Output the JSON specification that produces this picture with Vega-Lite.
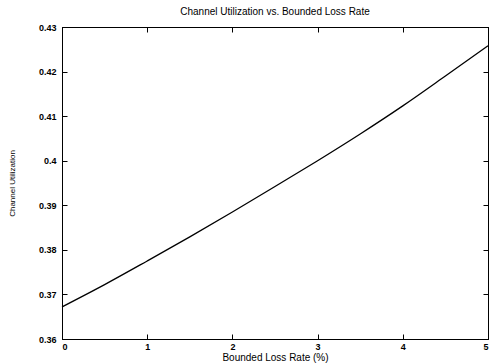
{
  "$schema": "https://vega.github.io/schema/vega-lite/v6.json",
  "width": 426,
  "height": 312,
  "autosize": {"type": "none"},
  "padding": {"left": 62, "top": 27, "right": 2, "bottom": 24},
  "background": "white",
  "title": {
    "text": "Channel Utilization vs. Bounded Loss Rate",
    "font": "Liberation Sans",
    "fontSize": 10,
    "fontWeight": "normal",
    "color": "black",
    "offset": 6,
    "anchor": "middle"
  },
  "config": {
    "view": {"stroke": "black", "strokeWidth": 1},
    "axis": {
      "grid": false,
      "domainColor": "black",
      "tickColor": "black",
      "tickSize": -5,
      "labelFont": "Liberation Sans",
      "labelFontSize": 9,
      "labelFontWeight": "bold",
      "labelColor": "black",
      "titleFont": "Liberation Sans",
      "titleFontWeight": "normal",
      "titleColor": "black"
    }
  },
  "data": {
    "values": [
      {"rate": 0, "util": 0.3672},
      {"rate": 0.5, "util": 0.3722},
      {"rate": 1, "util": 0.3775},
      {"rate": 1.5, "util": 0.3829},
      {"rate": 2, "util": 0.3885},
      {"rate": 2.5, "util": 0.3942},
      {"rate": 3, "util": 0.4000},
      {"rate": 3.5, "util": 0.4060},
      {"rate": 4, "util": 0.4123},
      {"rate": 4.5, "util": 0.4190},
      {"rate": 5, "util": 0.4258}
    ]
  },
  "layer": [
    {
      "mark": {"type": "line", "color": "black", "strokeWidth": 1.3, "interpolate": "monotone"},
      "encoding": {
        "x": {
          "field": "rate", "type": "quantitative",
          "scale": {"domain": [0, 5], "nice": false, "zero": false},
          "axis": {"values": [0, 1, 2, 3, 4, 5], "format": "d", "title": "Bounded Loss Rate (%)", "titleFontSize": 10, "labelPadding": 8, "titlePadding": 1}
        },
        "y": {
          "field": "util", "type": "quantitative",
          "scale": {"domain": [0.36, 0.43], "nice": false, "zero": false},
          "axis": {"values": [0.36, 0.37, 0.38, 0.39, 0.4, 0.41, 0.42, 0.43], "format": "~g", "title": "Channel Utilization", "titleFontSize": 8, "labelPadding": 11, "titlePadding": 22}
        }
      }
    },
    {
      "mark": {"type": "line", "opacity": 0},
      "encoding": {
        "x": {
          "field": "rate", "type": "quantitative",
          "scale": {"domain": [0, 5], "nice": false, "zero": false},
          "axis": {"orient": "top", "values": [0, 1, 2, 3, 4, 5], "labels": false, "title": null}
        },
        "y": {
          "field": "util", "type": "quantitative",
          "scale": {"domain": [0.36, 0.43], "nice": false, "zero": false},
          "axis": {"orient": "right", "values": [0.36, 0.37, 0.38, 0.39, 0.4, 0.41, 0.42, 0.43], "labels": false, "title": null}
        }
      }
    }
  ],
  "resolve": {"axis": {"x": "independent", "y": "independent"}}
}
